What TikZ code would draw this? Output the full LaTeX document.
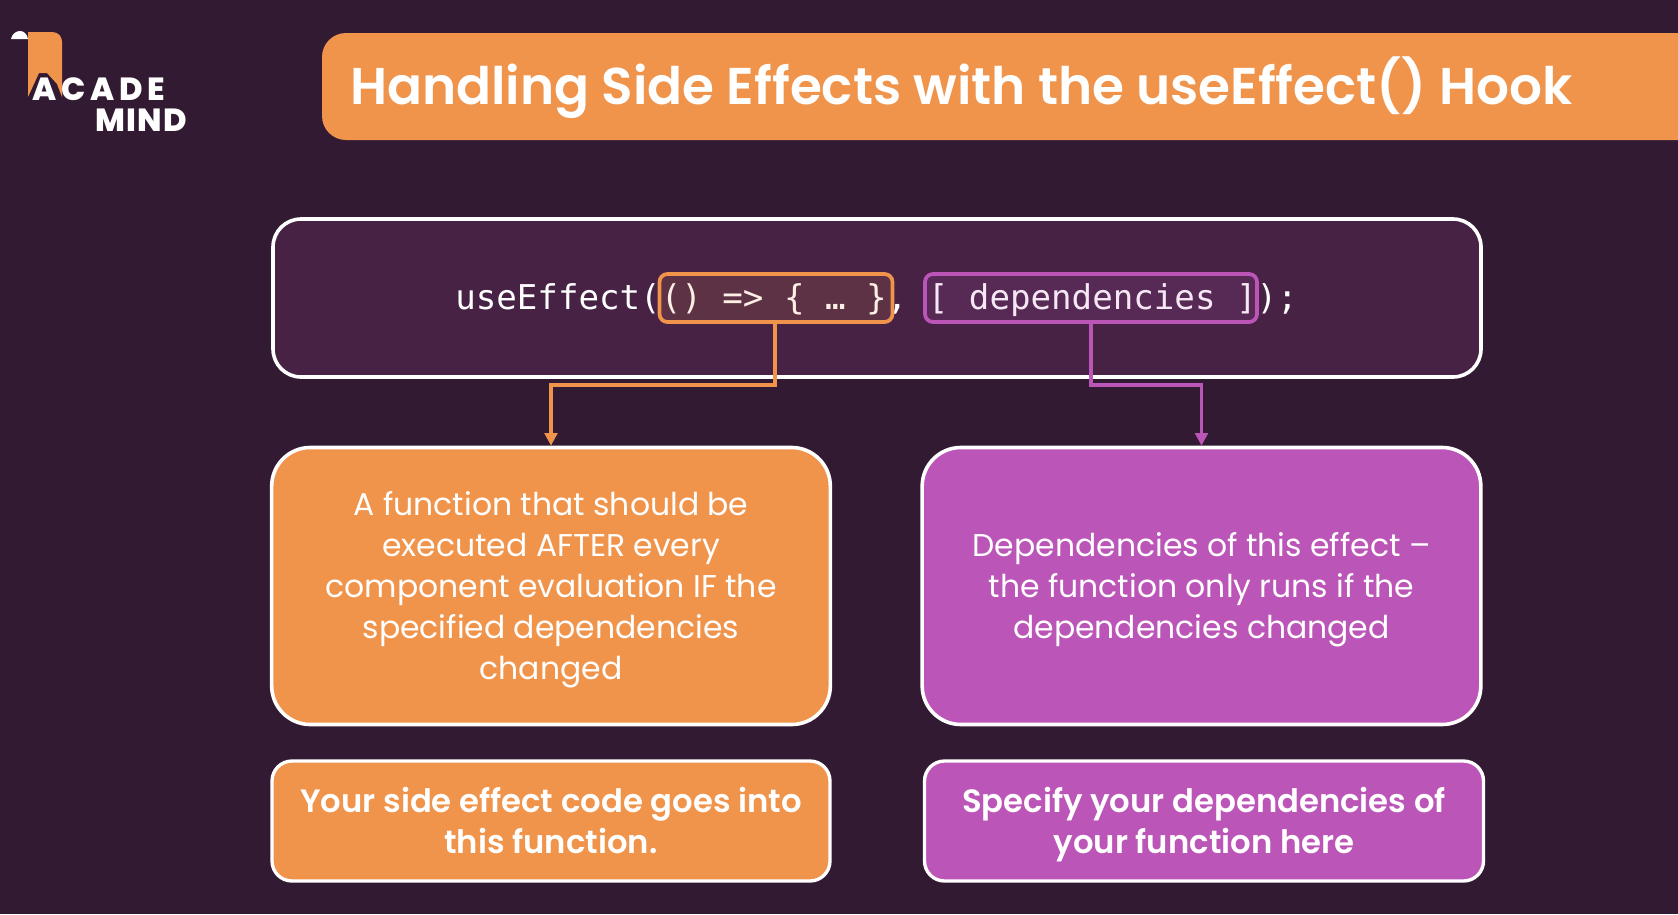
\documentclass[tikz,border=0pt]{standalone}
\usepackage{fontspec}
\setmainfont{Poppins}[BoldFont=Poppins SemiBold]
\newfontfamily\logofont{Poppins ExtraBold}
\newfontfamily\codefont{DejaVu Sans Mono}
\usetikzlibrary{arrows.meta}
\definecolor{bgdark}{HTML}{331A33}
\definecolor{panel}{HTML}{472245}
\definecolor{orangeb}{HTML}{F0944C}
\definecolor{purpleb}{HTML}{BC55B8}
\newcommand{\tops}{\rule{0pt}{25pt}}
\newcommand{\bots}{\rule[-7.5pt]{0pt}{7.5pt}}
\tikzset{
  x=0.75pt,y=-0.75pt,
  cardbox/.style={draw=white,line width=2.7pt,rounded corners=29pt,minimum width=419pt,minimum height=207.75pt,inner sep=0pt,align=center,text=white,font=\fontsize{23.6}{30.8}\selectfont},
  notebox/.style={draw=white,line width=2.5pt,rounded corners=15pt,minimum height=90pt,inner sep=0pt,align=center,text=white,font=\fontsize{24.2}{30.8}\selectfont\bfseries},
  hlbox/.style={line width=2.8pt,rounded corners=6pt,inner sep=0pt,minimum height=36pt},
  link/.style={line width=2.8pt,-{Triangle[length=9.5pt,width=9.5pt]}},
}
\begin{document}
\begin{tikzpicture}
\useasboundingbox (0,0) rectangle (1678,914);
\fill[bgdark] (0,0) rectangle (1678,914);
% logo
\fill[orangeb] (28,32) -- (52,32) .. controls (59,32) and (62,37) .. (62,42) -- (62,97) -- (57,84) -- (47,73) -- (39,73) -- (28,97) -- cycle;
\fill[white] (11,39) .. controls (12,34) and (16,31) .. (20,31) .. controls (24,31) and (27,34) .. (28,39) -- cycle;
\node[anchor=west,inner sep=0pt,text=white,font=\logofont\fontsize{24}{24}\selectfont] (logoa) at (32,89) {A\kern4pt C\kern3.5pt A\kern3.5pt D\kern3.5pt E};
\node[anchor=west,inner sep=0pt,text=white,font=\logofont\fontsize{24}{24}\selectfont] (logob) at (95,120) {M\kern1pt I\kern1pt N\kern1pt D};
% title
\fill[orangeb] (1678,33) [rounded corners=18pt] -- (322,33) -- (322,140) [sharp corners] -- (1678,140) -- cycle;
\node[anchor=west,inner sep=0pt,text=white,font=\fontsize{38.76}{39}\selectfont\bfseries] (title) at (350,88) {Handling Side Effects with the useEffect() Hook};
% code panel
\node[draw=white,line width=2.7pt,fill=panel,rounded corners=21pt,minimum width=906pt,minimum height=118.5pt,inner sep=0pt] (panel) at (877,298) {};
\node[inner sep=0pt,text=white,font=\codefont\fontsize{25.6}{30}\selectfont,anchor=west] (code) at (455,300) {useEffect(() => \{ … \}, [ dependencies ]);};
\node[hlbox,draw=orangeb,fill=orangeb,fill opacity=.14,minimum width=174.75pt] (fn) at (776,298) {};
\node[hlbox,draw=purpleb,fill=purpleb,fill opacity=.14,minimum width=249pt] (dep) at (1091,298) {};
% cards
\node[cardbox,fill=orangeb] (c1) at (551,586) {\tops A function that should be\\executed AFTER every\\component evaluation IF the\\specified dependencies\\changed\bots};
\node[cardbox,fill=purpleb] (c2) at (1201.5,586) {\tops Dependencies of this effect –\\the function only runs if the\\dependencies changed\bots};
\node[notebox,fill=orangeb,minimum width=418.5pt] (n1) at (551,821) {\tops Your side effect code goes into\\this function.\bots};
\node[notebox,fill=purpleb,minimum width=419.25pt] (n2) at (1204,821) {\tops Specify your dependencies of\\your function here\bots};
% connectors
\coordinate (b1) at (775,385);
\coordinate (b2) at (1091,385);
\draw[link,draw=orangeb] (fn.south -| b1) |- (b1) -| (c1.north);
\draw[link,draw=purpleb] (dep.south -| b2) |- (b2) -| (c2.north);
\end{tikzpicture}
\end{document}
